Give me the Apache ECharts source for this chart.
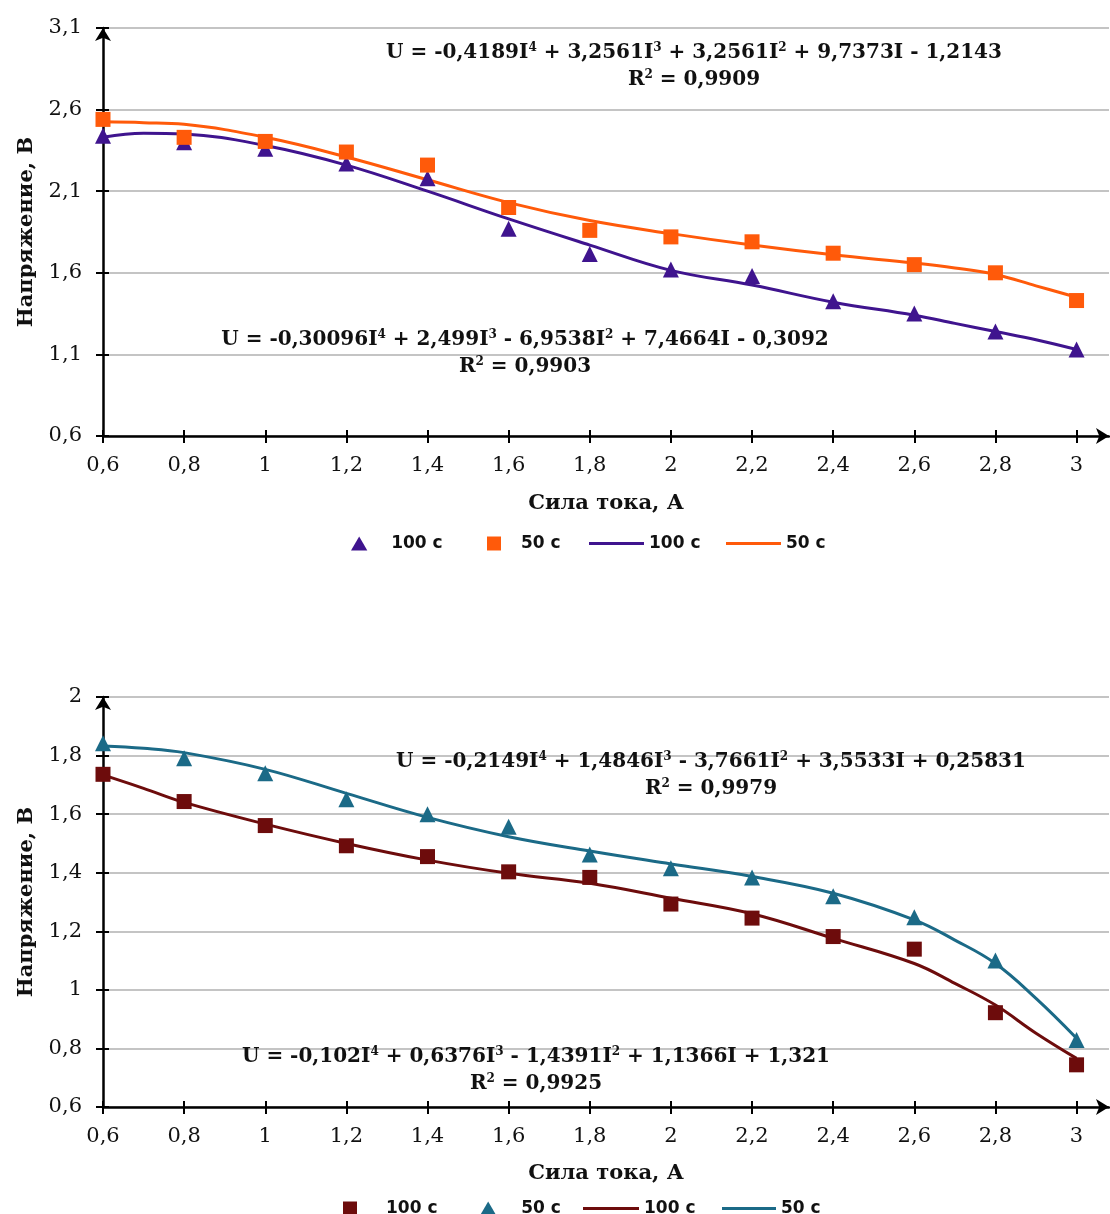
<!DOCTYPE html>
<html>
<head>
<meta charset="utf-8">
<script src="https://cdn.jsdelivr.net/npm/echarts@6/dist/echarts.min.js"></script>
<style>
  html, body { margin: 0; padding: 0; background: #fff; }
  #chart { width: 1110px; height: 1214px; }
</style>
</head>
<body>
<div id="chart"></div>
<script>
// Current values (A) at which voltage was measured
const currentI = [0.6, 0.8, 1, 1.2, 1.4, 1.6, 1.8, 2, 2.2, 2.4, 2.6, 2.8, 3];
// Points along the fitted trend curves (A)
const trendI = [0.6, 0.7, 0.8, 1, 1.2, 1.4, 1.6, 1.8, 2, 2.2, 2.4, 2.6, 2.7, 2.8, 2.9, 3];
// Tick labels
const xTicks = [0.6, 0.8, 1, 1.2, 1.4, 1.6, 1.8, 2, 2.2, 2.4, 2.6, 2.8, 3];
const yTicksTop = [0.6, 1.1, 1.6, 2.1, 2.6, 3.1];
const yTicksBottom = [0.6, 0.8, 1, 1.2, 1.4, 1.6, 1.8, 2];

// Upper chart: measured voltage (V)
const uTop100 = [2.44, 2.40, 2.36, 2.27, 2.18, 1.87, 1.715, 1.62, 1.58, 1.425, 1.35, 1.24, 1.13];
const uTop50 = [2.54, 2.43, 2.405, 2.34, 2.26, 2.0, 1.86, 1.82, 1.79, 1.72, 1.65, 1.6, 1.43];
// Upper chart: trend curves (V)
const fitTop100 = [2.43, 2.455, 2.45, 2.38, 2.26, 2.10, 1.93, 1.77, 1.615, 1.525, 1.42, 1.34, 1.29, 1.24, 1.19, 1.13];
const fitTop50 = [2.525, 2.52, 2.51, 2.43, 2.31, 2.17, 2.03, 1.92, 1.84, 1.77, 1.71, 1.66, 1.63, 1.59, 1.52, 1.45];

// Lower chart: measured voltage (V)
const uBot100 = [1.736, 1.643, 1.561, 1.492, 1.455, 1.403, 1.384, 1.293, 1.245, 1.182, 1.139, 0.922, 0.744];
const uBot50 = [1.842, 1.791, 1.74, 1.651, 1.6, 1.557, 1.462, 1.415, 1.384, 1.32, 1.248, 1.10, 0.829];
// Lower chart: trend curves (V)
const fitBot100 = [1.734, 1.688, 1.64, 1.566, 1.50, 1.443, 1.398, 1.364, 1.313, 1.26, 1.176, 1.09, 1.022, 0.948, 0.852, 0.766];
const fitBot50 = [1.833, 1.825, 1.81, 1.753, 1.671, 1.589, 1.523, 1.474, 1.43, 1.387, 1.33, 1.239, 1.17, 1.09, 0.971, 0.835];

// Trend equations; "^n" marks a superscript
const eqTop50 = ['U = -0,4189I^4 + 3,2561I^3 + 3,2561I^2 + 9,7373I - 1,2143', 'R^2 = 0,9909'];
const eqTop100 = ['U = -0,30096I^4 + 2,499I^3 - 6,9538I^2 + 7,4664I - 0,3092', 'R^2 = 0,9903'];
const eqBot50 = ['U = -0,2149I^4 + 1,4846I^3 - 3,7661I^2 + 3,5533I + 0,25831', 'R^2 = 0,9979'];
const eqBot100 = ['U = -0,102I^4 + 0,6376I^3 - 1,4391I^2 + 1,1366I + 1,321', 'R^2 = 0,9925'];

const legendLabels = {
  top_pts100: '100 с', top_pts50: '50 с', top_fit100: '100 с', top_fit50: '50 с',
  bot_pts100: '100 с', bot_pts50: '50 с', bot_fit100: '100 с', bot_fit50: '50 с'
};

const C = {
  purple: '#3f148e',
  orange: '#ff5a0a',
  darkRed: '#6d0c0c',
  teal: '#1b6a87'
};

const SERIF = '"DejaVu Serif", "Liberation Serif", serif';
const SANS = '"DejaVu Sans", "Noto Sans", sans-serif';
// Legend icons, kept at their own aspect ratio inside the icon box
const LINE_ICON = 'path://M0,0 L52,0 L52,3 L0,3 Z';
const TRI_ICON = 'path://M7,0 L14,12 L0,12 Z';
const SQ_ICON = 'path://M0,0 L12,0 L12,12 L0,12 Z';

const fmtNum = v => String(Math.round(v * 100) / 100).replace('.', ',');
const pairs = (xs, ys) => xs.map((x, i) => [x, ys[i]]);

function richEq(s) {
  return s.replace(/\^(\d)/g, '{s|$1}');
}
const eqRich = {
  s: { fontFamily: SERIF, fontWeight: 'bold', fontSize: 12, verticalAlign: 'top', fill: '#111', lineHeight: 22 }
};
function eqText(lines, x, y) {
  return lines.map((ln, k) => ({
    type: 'text',
    x: x, y: y + k * 27,
    z: 100,
    style: {
      text: richEq(ln),
      rich: eqRich,
      fontFamily: SERIF, fontWeight: 'bold', fontSize: 20,
      fill: '#111',
      align: 'center', verticalAlign: 'middle',
      textAlign: 'center', textVerticalAlign: 'middle'
    }
  }));
}

function mainX(grid, nameGap) {
  return {
    type: 'value', gridIndex: grid, min: 0.6, max: 3.08,
    name: 'Сила тока, А', nameLocation: 'middle', nameGap: nameGap,
    nameTextStyle: { fontFamily: SERIF, fontWeight: 'bold', fontSize: 21, color: '#111' },
    axisLine: { show: true, onZero: false, symbol: ['none', 'arrow'], symbolSize: [12, 13], symbolOffset: [0, 0],
      lineStyle: { color: '#000', width: 2.5 } },
    axisTick: { show: true, customValues: xTicks, length: 7, lineStyle: { color: '#000', width: 2 } },
    axisLabel: { customValues: xTicks, formatter: fmtNum, margin: 19,
      fontFamily: SERIF, fontSize: 21, color: '#111' },
    splitLine: { show: false }
  };
}
function innerX(grid) {
  return {
    type: 'value', gridIndex: grid, min: 0.6, max: 3.08, position: 'bottom',
    axisLine: { show: false },
    axisTick: { show: true, inside: true, customValues: xTicks, length: 6, lineStyle: { color: '#000', width: 2 } },
    axisLabel: { show: false }, splitLine: { show: false }
  };
}
function mainY(grid, min, max, ticks) {
  return {
    type: 'value', gridIndex: grid, min: min, max: max,
    name: 'Напряжение, В', nameLocation: 'middle', nameGap: 66,
    nameTextStyle: { fontFamily: SERIF, fontWeight: 'bold', fontSize: 21, color: '#111' },
    axisLine: { show: true, onZero: false, symbol: ['none', 'arrow'], symbolSize: [12, 13], symbolOffset: [0, 0],
      lineStyle: { color: '#000', width: 2.5 } },
    axisTick: { show: true, customValues: ticks, length: 7, lineStyle: { color: '#000', width: 2 } },
    axisLabel: { customValues: ticks, formatter: fmtNum, margin: 21,
      fontFamily: SERIF, fontSize: 21, color: '#111' },
    splitLine: { show: true, lineStyle: { color: '#c4c4c4', width: 2 } }
  };
}
function innerY(grid, min, max, ticks) {
  return {
    type: 'value', gridIndex: grid, min: min, max: max, position: 'left',
    axisLine: { show: false },
    axisTick: { show: true, inside: true, customValues: ticks, length: 6, lineStyle: { color: '#000', width: 2 } },
    axisLabel: { show: false }, splitLine: { show: false }
  };
}

function fitLine(name, xIdx, yIdx, xs, ys, color) {
  return {
    name: name, type: 'line', xAxisIndex: xIdx, yAxisIndex: yIdx,
    data: pairs(xs, ys), smooth: 0.4, symbol: 'none',
    lineStyle: { color: color, width: 3 }, itemStyle: { color: color },
    z: 2, silent: true
  };
}
function points(name, xIdx, yIdx, ys, symbol, size, color) {
  return {
    name: name, type: 'scatter', xAxisIndex: xIdx, yAxisIndex: yIdx,
    data: pairs(currentI, ys), symbol: symbol, symbolSize: size,
    itemStyle: { color: color, opacity: 1 }, z: 3
  };
}

const legendText = { fontFamily: SANS, fontWeight: 'bold', fontSize: 17, color: '#111' };

// One legend entry, placed on its own
function legendItem(name, icon, left, top, iconBox) {
  return {
    data: [{ name: name, icon: icon }],
    left: left, top: top, padding: 0,
    itemWidth: iconBox, itemHeight: 14, symbolKeepAspect: true,
    formatter: n => legendLabels[n], textStyle: legendText, selectedMode: false
  };
}

const option = {
  backgroundColor: '#fff',
  animation: false,
  grid: [
    { left: 103, top: 28, right: 1, height: 408 },
    { left: 103, top: 697, right: 1, height: 410 }
  ],
  xAxis: [mainX(0, 57), innerX(0), mainX(1, 56), innerX(1)],
  yAxis: [
    mainY(0, 0.6, 3.1, yTicksTop), innerY(0, 0.6, 3.1, yTicksTop),
    mainY(1, 0.6, 2, yTicksBottom), innerY(1, 0.6, 2, yTicksBottom)
  ],
  legend: [
    legendItem('top_pts100', TRI_ICON, 351, 535, 54),
    legendItem('top_pts50', SQ_ICON, 487, 535, 44),
    legendItem('top_fit100', LINE_ICON, 589, 535, 55),
    legendItem('top_fit50', LINE_ICON, 726, 535, 55),
    legendItem('bot_pts100', SQ_ICON, 343, 1200, 62),
    legendItem('bot_pts50', TRI_ICON, 480, 1200, 56),
    legendItem('bot_fit100', LINE_ICON, 583, 1200, 56),
    legendItem('bot_fit50', LINE_ICON, 722, 1200, 54)
  ],
  series: [
    fitLine('top_fit100', 0, 0, trendI, fitTop100, C.purple),
    fitLine('top_fit50', 0, 0, trendI, fitTop50, C.orange),
    points('top_pts100', 0, 0, uTop100, 'triangle', 16, C.purple),
    points('top_pts50', 0, 0, uTop50, 'rect', 15, C.orange),

    fitLine('bot_fit100', 2, 2, trendI, fitBot100, C.darkRed),
    fitLine('bot_fit50', 2, 2, trendI, fitBot50, C.teal),
    points('bot_pts100', 2, 2, uBot100, 'rect', 15, C.darkRed),
    points('bot_pts50', 2, 2, uBot50, 'triangle', 16, C.teal)
  ],
  graphic: [
    ...eqText(eqTop50, 694, 53),
    ...eqText(eqTop100, 525, 340),
    ...eqText(eqBot50, 711, 762),
    ...eqText(eqBot100, 536, 1057)
  ]
};

const chart = echarts.init(document.getElementById('chart'), null, { renderer: 'canvas' });
chart.setOption(option);
</script>
</body>
</html>
